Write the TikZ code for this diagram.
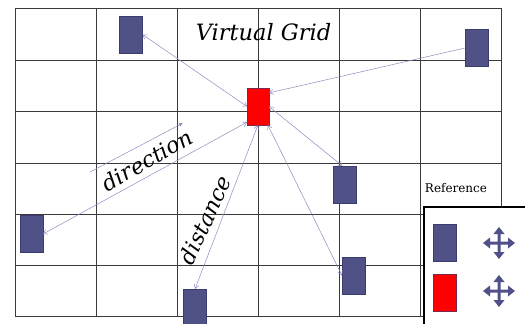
\documentclass[tikz,border=0pt]{standalone}
\usepackage{fontspec}
\setmainfont{DejaVu Serif}
\usetikzlibrary{arrows.meta,calc}
\definecolor{blk}{HTML}{4F5187}
\definecolor{blkline}{HTML}{3A3C6E}
\definecolor{redline}{HTML}{7A2A4A}
\definecolor{conncol}{HTML}{8C8EC0}
\definecolor{gridcol}{HTML}{3A3A3A}
\tikzset{
  cell/.style={draw=gridcol, line width=0.9pt},
  blue box/.style={draw=blkline, fill=blk, line width=0.6pt, minimum width=23pt, minimum height=37pt, inner sep=0pt, outer sep=0pt},
  red box/.style={draw=redline, fill=red, line width=0.6pt, minimum width=22pt, minimum height=37pt, inner sep=0pt, outer sep=0pt},
  conn/.style={draw=conncol, line width=0.5pt, {Straight Barb[length=4pt,width=5pt]}-{Straight Barb[length=4pt,width=5pt]}},
  conn1/.style={draw=conncol, line width=0.5pt, -{Straight Barb[length=4pt,width=5pt]}},
  dirarrow/.style={draw=conncol, line width=0.5pt, -{Latex[length=4pt,width=3.5pt]}},
  label/.style={font=\itshape\fontsize{22}{24}\selectfont, inner sep=0pt},
  pics/moveicon/.style={code={
    \fill[blk] (-16,0) -- (-9,-5.5) -- (-9,-1.5) -- (-1.5,-1.5) -- (-1.5,-9) -- (-5.5,-9) -- (0,-16)
      -- (5.5,-9) -- (1.5,-9) -- (1.5,-1.5) -- (9,-1.5) -- (9,-5.5) -- (16,0) -- (9,5.5) -- (9,1.5)
      -- (1.5,1.5) -- (1.5,9) -- (5.5,9) -- (0,16) -- (-5.5,9) -- (-1.5,9) -- (-1.5,1.5) -- (-9,1.5)
      -- (-9,5.5) -- cycle;
  }}
}
\begin{document}
\begin{tikzpicture}[x=1pt,y=-1pt]
\useasboundingbox (0,0) rectangle (525,324);
\fill[white] (0,0) rectangle (525,324);
% grid
\foreach \x in {15,96,177,258,339,420,501} \draw[cell] (\x,8) -- (\x,316);
\foreach \y in {8,60,111,163,214,265,316} \draw[cell] (15,\y) -- (501,\y);
% title
\node[font=\itshape\fontsize{22.5}{24}\selectfont, anchor=base, inner sep=0pt] (title) at (263.5,40) {Virtual Grid};
\node[font=\fontsize{12}{14}\selectfont, anchor=base, inner sep=0pt] (ref) at (456,192) {Reference};
% blocks
\node[blue box] (tl) at (131,34.5) {};
\node[blue box] (tr) at (476.5,48) {};
\node[red box] (rd) at (258,106.5) {};
\node[blue box] (lf) at (31.5,234) {};
\node[blue box] (bm) at (195,307.5) {};
\node[blue box] (mr) at (344.5,184.5) {};
\node[blue box] (lr) at (353.5,275.5) {};
% connectors
\draw[conn] (rd.west) -- (tl.east);
\draw[conn1] (tr.west) -- (rd.51);
\draw[conn] (rd.east) -- ($(mr.north)+(-2,0)$);
\draw[conn] (rd.-62) -- (lr.west);
\draw[conn] (rd.south) -- (bm.north);
\draw[conn] (lf.east) -- (rd.-125);
% direction arrow
\coordinate (d0) at (90,172);
\coordinate (d1) at (183,123);
\draw[dirarrow] (d0) -- (d1);
% labels
\node[label, rotate=30] (dir) at (147,160) {direction};
\node[label, rotate=65] (dist) at (205,220) {distance};
% legend
\draw[fill=white, draw=black, line width=1.2pt] (424,207) rectangle (527,327);
\node[blue box] (lgb) at (444.5,243) {};
\node[red box, minimum width=23pt] (lgr) at (444.5,293) {};
\pic at (499,243) {moveicon};
\pic at (499,291) {moveicon};
\end{tikzpicture}
\end{document}
